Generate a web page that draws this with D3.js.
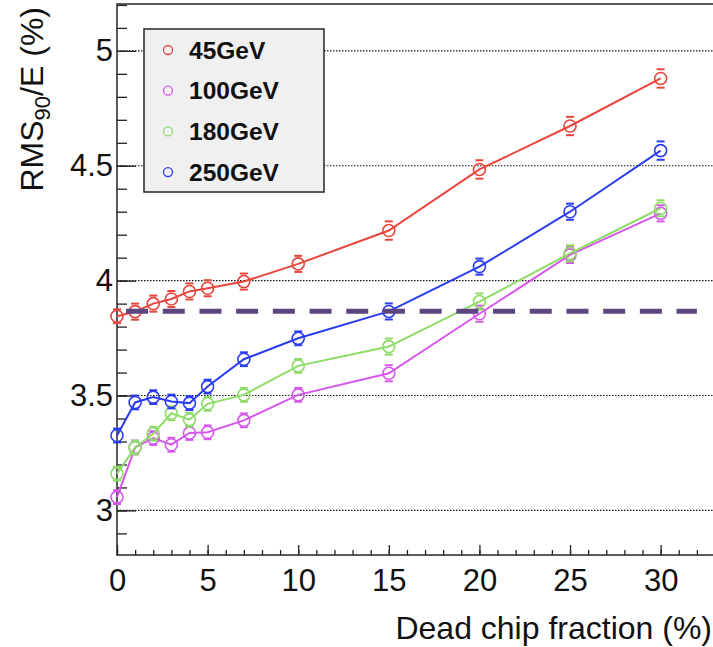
<!DOCTYPE html>
<html>
<head>
<meta charset="utf-8">
<script src="https://cdnjs.cloudflare.com/ajax/libs/d3/7.8.5/d3.min.js"></script>
<style>
	body { margin: 0; background: #fff; }
	svg text { font-family: "Liberation Sans", Arial, sans-serif; fill: #111; }
</style>
</head>
<body>
<svg id="chart" width="713" height="647"></svg>
<script>
// dead chip fraction (%)
const fractions = [0, 1, 2, 3, 4, 5, 7, 10, 15, 20, 25, 30];

// RMS90/E (%) per beam energy
const rms45 = [3.845, 3.865, 3.90, 3.92, 3.953, 3.967, 3.996, 4.073, 4.218, 4.484, 4.673, 4.880];
const rms100 = [3.058, 3.274, 3.315, 3.286, 3.337, 3.340, 3.392, 3.503, 3.597, 3.856, 4.112, 4.293];
const rms180 = [3.160, 3.274, 3.334, 3.423, 3.395, 3.464, 3.503, 3.629, 3.713, 3.909, 4.119, 4.315];
const rms250 = [3.326, 3.470, 3.493, 3.474, 3.467, 3.539, 3.658, 3.749, 3.866, 4.061, 4.300, 4.566];

const err45 = [0.03, 0.035, 0.035, 0.035, 0.035, 0.035, 0.035, 0.035, 0.04, 0.04, 0.04, 0.04];
const err100 = [0.03, 0.03, 0.03, 0.03, 0.03, 0.03, 0.03, 0.03, 0.035, 0.035, 0.035, 0.035];
const err180 = [0.03, 0.03, 0.03, 0.03, 0.03, 0.03, 0.03, 0.03, 0.035, 0.035, 0.035, 0.035];
const err250 = [0.03, 0.03, 0.03, 0.03, 0.03, 0.03, 0.03, 0.03, 0.035, 0.035, 0.035, 0.04];

const seriesNames = ["45GeV", "100GeV", "180GeV", "250GeV"];
const seriesColors = ["#e8453c", "#d657ec", "#8ddc66", "#2a3cf0"];

const xTicks = [0, 5, 10, 15, 20, 25, 30];
const yTicks = [3, 3.5, 4, 4.5, 5];

// reference level and its extent
const refLevel = 3.867;
const refRange = [0.5, 32];

const svg = d3.select("#chart");
const frame = { left: 117, right: 715, top: 4, bottom: 555 };

const x = d3.scaleLinear().domain([0, 33]).range([frame.left, frame.right]);
const y = d3.scaleLinear().domain([2.806, 5.204]).range([frame.bottom, frame.top]);

const series = [rms45, rms100, rms180, rms250].map(function(vals, i) {
	let errs = [err45, err100, err180, err250][i];
	return {
		name: seriesNames[i],
		color: seriesColors[i],
		points: fractions.map(function(f, j) { return { x: f, y: vals[j], e: errs[j] }; })
	};
});

// dotted grid at the labelled values
svg.append("g")
	.selectAll("line")
	.data(yTicks)
	.enter()
	.append("line")
	.attr("x1", frame.left)
	.attr("x2", frame.right)
	.attr("y1", function(d) { return y(d); })
	.attr("y2", function(d) { return y(d); })
	.attr("stroke", "#111")
	.attr("stroke-width", 1.1)
	.attr("stroke-dasharray", "1.5 1.5");

// frame
svg.append("rect")
	.attr("x", frame.left)
	.attr("y", frame.top)
	.attr("width", frame.right - frame.left)
	.attr("height", frame.bottom - frame.top)
	.attr("fill", "none")
	.attr("stroke", "#333")
	.attr("stroke-width", 1.6);

// axes, ticks inside the frame like ROOT
const xAxis = d3.axisBottom(x).tickValues(xTicks).tickSize(-10).tickPadding(14).tickFormat(d3.format("d"));
const xMinor = d3.axisBottom(x).tickValues(d3.range(0, 34, 1)).tickSize(-5).tickFormat("");
const yAxis = d3.axisLeft(y).tickValues(yTicks).tickSize(-19).tickPadding(4).tickFormat(function(d) { return d3.format("")(d); });
const yMinor = d3.axisLeft(y).tickValues(d3.range(29, 53, 1).map(function(v) { return v / 10; })).tickSize(-10).tickFormat("");

function styleAxis(g) {
	g.select(".domain").remove();
	g.selectAll(".tick line").attr("stroke", "#222").attr("stroke-width", 1.3);
	g.selectAll(".tick text").attr("font-size", 31).attr("fill", "#111");
}

svg.append("g").attr("transform", "translate(0," + frame.bottom + ")").call(xMinor).call(styleAxis);
svg.append("g").attr("transform", "translate(0," + frame.bottom + ")").call(xAxis).call(styleAxis);
svg.append("g").attr("transform", "translate(" + frame.left + ",0)").call(yMinor).call(styleAxis);
svg.append("g").attr("transform", "translate(" + frame.left + ",0)").call(yAxis).call(styleAxis);

// axis titles
svg.append("text")
	.attr("x", 712)
	.attr("y", 639)
	.attr("text-anchor", "end")
	.attr("font-size", 32)
	.text("Dead chip fraction (%)");

let yTitle = svg.append("text")
	.attr("transform", "translate(43,7) rotate(-90)")
	.attr("text-anchor", "end")
	.attr("font-size", 32);
yTitle.append("tspan").text("RMS");
yTitle.append("tspan").attr("font-size", 22).attr("dy", 7).text("90");
yTitle.append("tspan").attr("dy", -7).text("/E (%)");

// series: lines, error bars, open markers
const line = d3.line()
	.x(function(d) { return x(d.x); })
	.y(function(d) { return y(d.y); });

const markerR = 6;

series.forEach(function(s) {
	let g = svg.append("g");
	g.append("path")
		.attr("d", line(s.points))
		.attr("fill", "none")
		.attr("stroke", s.color)
		.attr("stroke-width", 2);

	let bars = g.selectAll(".err")
		.data(s.points)
		.enter()
		.append("g")
		.attr("stroke", s.color)
		.attr("stroke-width", 2);
	bars.append("line")
		.attr("x1", function(d) { return x(d.x); })
		.attr("x2", function(d) { return x(d.x); })
		.attr("y1", function(d) { return y(d.y + d.e); })
		.attr("y2", function(d) { return Math.min(y(d.y) - markerR, y(d.y + d.e)); });
	bars.append("line")
		.attr("x1", function(d) { return x(d.x); })
		.attr("x2", function(d) { return x(d.x); })
		.attr("y1", function(d) { return y(d.y - d.e); })
		.attr("y2", function(d) { return Math.max(y(d.y) + markerR, y(d.y - d.e)); });
	bars.append("line")
		.attr("x1", function(d) { return x(d.x) - 4; })
		.attr("x2", function(d) { return x(d.x) + 4; })
		.attr("y1", function(d) { return y(d.y + d.e); })
		.attr("y2", function(d) { return y(d.y + d.e); });
	bars.append("line")
		.attr("x1", function(d) { return x(d.x) - 4; })
		.attr("x2", function(d) { return x(d.x) + 4; })
		.attr("y1", function(d) { return y(d.y - d.e); })
		.attr("y2", function(d) { return y(d.y - d.e); });

	g.selectAll("circle")
		.data(s.points)
		.enter()
		.append("circle")
		.attr("cx", function(d) { return x(d.x); })
		.attr("cy", function(d) { return y(d.y); })
		.attr("r", markerR)
		.attr("fill", "none")
		.attr("stroke", s.color)
		.attr("stroke-width", 1.6);
});

// dashed reference line
svg.append("line")
	.attr("x1", x(refRange[0]))
	.attr("x2", x(refRange[1]))
	.attr("y1", y(refLevel))
	.attr("y2", y(refLevel))
	.attr("stroke", "#5d4680")
	.attr("stroke-width", 5)
	.attr("stroke-dasharray", "22 14.7");

// legend
const legend = svg.append("g").attr("transform", "translate(144,29)");
legend.append("rect")
	.attr("width", 180)
	.attr("height", 163)
	.attr("fill", "#f0f0f0")
	.attr("stroke", "#333")
	.attr("stroke-width", 1.6);

let entries = legend.selectAll(".entry")
	.data(series)
	.enter()
	.append("g")
	.attr("transform", function(d, i) { return "translate(0," + (21 + i * 40.7) + ")"; });
entries.append("circle")
	.attr("cx", 24)
	.attr("r", 4.5)
	.attr("fill", "none")
	.attr("stroke", function(d) { return d.color; })
	.attr("stroke-width", 1.3);
entries.append("text")
	.attr("x", 45)
	.attr("y", 8.5)
	.attr("font-size", 24.5)
	.attr("font-weight", "bold")
	.text(function(d) { return d.name; });
</script>
</body>
</html>
